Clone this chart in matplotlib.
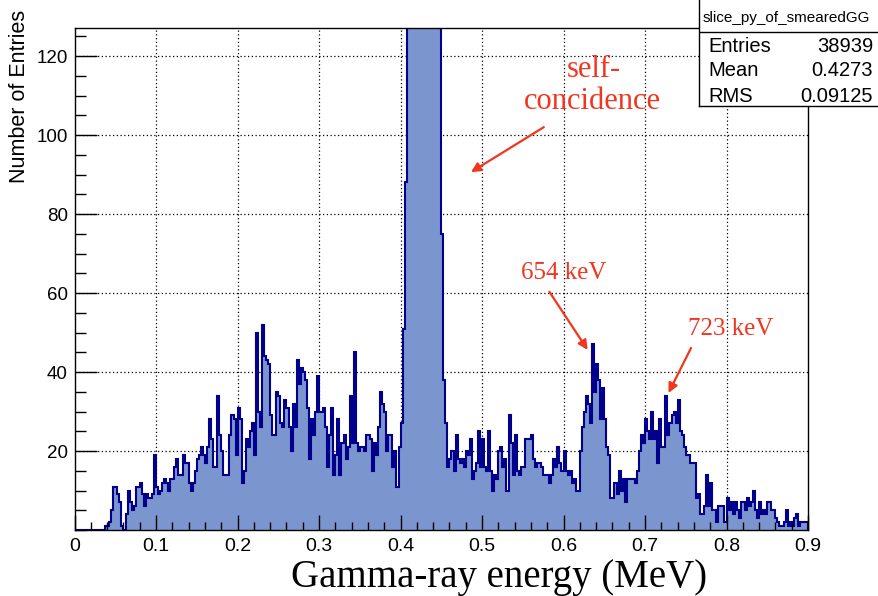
import numpy as np
import matplotlib
matplotlib.use("Agg")
import matplotlib.pyplot as plt

# histogram contents, 0.0025 MeV bins
counts_000_010 = [0]*15 + [1, 1, 2, 5, 11, 11, 9, 7, 1, 0, 4, 10, 7, 5, 6, 11, 11, 12, 9, 6,
                           9, 8, 8, 9, 19]
counts_010_020 = [11, 9, 10, 12, 13, 12, 10, 13, 13, 16, 18, 14, 14, 19, 17, 17, 12, 10, 12, 15,
                  18, 19, 21, 19, 17, 21, 28, 23, 16, 16, 34, 24, 20, 14, 14, 14, 24, 29, 28, 19]
counts_020_030 = [31, 28, 12, 15, 23, 21, 25, 27, 19, 50, 30, 26, 52, 44, 43, 42, 29, 24, 24, 35,
                  34, 27, 26, 33, 31, 26, 20, 32, 26, 43, 37, 41, 40, 38, 31, 18, 28, 24, 30, 39]
counts_030_040 = [30, 30, 31, 26, 16, 24, 31, 14, 19, 28, 14, 22, 24, 18, 21, 34, 22, 45, 22, 20,
                  21, 21, 20, 24, 24, 23, 15, 22, 19, 26, 35, 32, 30, 20, 24, 24, 16, 20, 11, 21]
counts_040_050 = [27, 51, 88, 150, 420, 900, 1500, 2100, 2600, 2900, 3000, 2900, 2700, 2400, 2100,
                  1800, 1500, 1100, 700, 300, 75, 38, 27, 16, 18, 20, 15, 24, 18, 17,
                  18, 16, 20, 19, 23, 13, 15, 17, 25, 16]
counts_050_060 = [23, 16, 15, 25, 15, 10, 14, 13, 20, 21, 16, 18, 10, 29, 22, 14, 24, 15, 14, 16,
                  16, 23, 23, 23, 24, 18, 16, 17, 17, 16, 14, 14, 14, 12, 14, 18, 16, 21, 17, 15]
counts_060_070 = [20, 15, 14, 15, 12, 13, 10, 10, 20, 26, 30, 34, 32, 27, 47, 35, 42, 38, 28, 36,
                  28, 21, 19, 8, 8, 12, 9, 15, 10, 13, 7, 13, 13, 13, 13, 12, 15, 20, 24, 22]
counts_070_080 = [28, 25, 23, 30, 23, 25, 17, 28, 21, 21, 34, 24, 27, 29, 30, 27, 33, 25, 24, 21,
                  19, 19, 17, 17, 17, 8, 9, 4, 4, 6, 14, 6, 12, 5, 5, 2, 6, 6, 6, 2]
counts_080_090 = [8, 5, 7, 4, 7, 5, 3, 7, 7, 5, 8, 6, 7, 10, 5, 3, 7, 4, 5, 4,
                  7, 7, 5, 5, 3, 2, 1, 1, 2, 5, 1, 2, 1, 3, 4, 1, 2, 2, 2, 2]

x_ticks = [0, 0.1, 0.2, 0.3, 0.4, 0.5, 0.6, 0.7, 0.8, 0.9]
y_ticks = [20, 40, 60, 80, 100, 120]

stat_names = ["Entries", "Mean", "RMS"]
stat_values = ["38939", "0.4273", "0.09125"]

counts = np.array(counts_000_010 + counts_010_020 + counts_020_030 + counts_030_040 +
                  counts_040_050 + counts_050_060 + counts_060_070 + counts_070_080 +
                  counts_080_090, dtype=float)
edges = np.linspace(0, 0.9, len(counts) + 1)

W, H = 879, 596
fill_col = '#7b96ce'
line_col = '#00008c'
red = '#f0361f'
sans = ['Liberation Sans', 'DejaVu Sans']
serif = ['Liberation Serif', 'DejaVu Serif']

fig = plt.figure(figsize=(W/100, H/100), dpi=100)
ax = fig.add_axes([74.6/W, 1 - 530/H, (808 - 74.6)/W, (530 - 28)/H])
ax.set_xlim(0, 0.9)
ax.set_ylim(0, 127.1)

# grid under the histogram, ticks over it
for xv in x_ticks[1:-1]:
    ax.axvline(xv, color='black', lw=0.9, ls=(0, (1, 2)), zorder=0)
for yv in y_ticks:
    ax.axhline(yv, color='black', lw=0.9, ls=(0, (1, 2)), zorder=0)

ax.stairs(counts, edges, fill=True, facecolor=fill_col, edgecolor='none', zorder=1)
ax.stairs(counts, edges, color=line_col, lw=1.5, zorder=1.2)

ax.set_xticks(x_ticks)
ax.set_xticks(np.arange(0, 0.901, 0.02), minor=True)
ax.set_yticks(y_ticks)
ax.set_yticks(np.arange(0, 127, 5), minor=True)
ax.set_xticklabels([f"{v:g}" for v in x_ticks], family=sans, fontsize=14)
ax.set_yticklabels([str(v) for v in y_ticks], family=sans, fontsize=13.5)
ax.tick_params(axis='x', which='major', direction='in', length=10.8, width=1, pad=6)
ax.tick_params(axis='x', which='minor', direction='in', length=5.6, width=1)
ax.tick_params(axis='y', which='major', direction='in', length=15.8, width=1, pad=5)
ax.tick_params(axis='y', which='minor', direction='in', length=7.9, width=1)
for s in ax.spines.values():
    s.set_linewidth(1)

fig.text(20/W, 1 - 10/H, "Number of Entries", rotation=90, ha='center', va='top',
         family=sans, fontsize=15.5)
fig.text(499/W, 1 - 577/H, "Gamma-ray energy (MeV)", ha='center', va='center',
         family=serif, fontsize=28)

# annotations
ax.text(0.637, 116.5, "self-", color=red, family=serif, fontsize=22, ha='center', va='center')
ax.text(0.636, 108.4, "concidence", color=red, family=serif, fontsize=22, ha='center', va='center')
ax.annotate("", xy=(0.4864, 90.6), xytext=(0.5758, 102),
            arrowprops=dict(arrowstyle='-|>', color=red, lw=1.6, mutation_scale=14,
                            shrinkA=0, shrinkB=0))
ax.text(0.600, 65.0, "654 keV", color=red, family=serif, fontsize=18, ha='center', va='center')
ax.annotate("", xy=(0.6296, 45.6), xytext=(0.5827, 60.3),
            arrowprops=dict(arrowstyle='-|>', color=red, lw=1.6, mutation_scale=14,
                            shrinkA=0, shrinkB=0))
ax.text(0.8047, 51.0, "723 keV", color=red, family=serif, fontsize=18, ha='center', va='center')
ax.annotate("", xy=(0.7288, 34.7), xytext=(0.7565, 46.1),
            arrowprops=dict(arrowstyle='-|>', color=red, lw=1.6, mutation_scale=14,
                            shrinkA=0, shrinkB=0))

# stats box, coordinates in image pixels from its top-left corner
sb = fig.add_axes([699/W, 1 - 106/H, (882 - 699)/W, 108/H])
sb.set_xlim(0, 183)
sb.set_ylim(106, -2)
sb.set_xticks([])
sb.set_yticks([])
for s in sb.spines.values():
    s.set_linewidth(1)
sb.axhline(31.7, color='black', lw=1)
sb.text(87, 18, "slice_py_of_smearedGG", ha='center', va='center',
        family=sans, fontsize=11)
row_y = [46, 71, 96]
for name, val, ry in zip(stat_names, stat_values, row_y):
    sb.text(9, ry, name, ha='left', va='center', family=sans, fontsize=14.5)
    sb.text(174, ry, val, ha='right', va='center', family=sans, fontsize=14.5)

fig.savefig("out.png", dpi=100)
